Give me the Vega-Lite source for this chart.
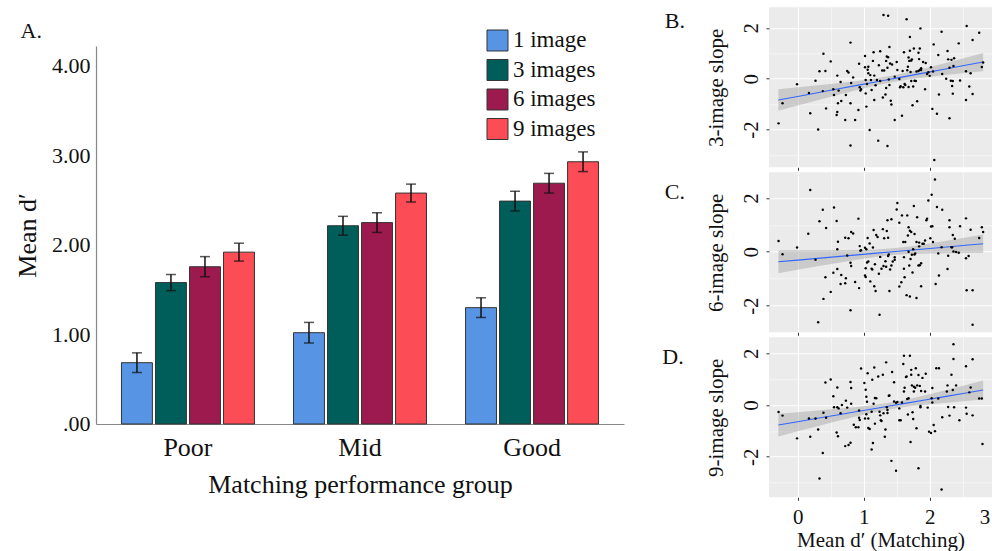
{
"$schema": "https://vega.github.io/schema/vega-lite/v6.json",
"padding": {"left": 14, "top": 7.3, "right": 0, "bottom": 0},
"background": "white",
"spacing": 38,
"config": {
 "font": "Liberation Serif",
 "view": {"stroke": null},
 "axis": {"labelColor": "#111111", "titleColor": "#111111", "titleFontWeight": "normal", "labelFont": "Liberation Serif", "titleFont": "Liberation Serif"},
 "title": {"font": "Liberation Serif", "fontWeight": "normal", "color": "#111111"},
 "legend": {"labelFont": "Liberation Serif", "titleFont": "Liberation Serif"}
},
"datasets": {
 "bars": [
  {"group":"Poor","images":"1 image","mean":0.685,"lo":0.575,"hi":0.795},
  {"group":"Poor","images":"3 images","mean":1.58,"lo":1.49,"hi":1.67},
  {"group":"Poor","images":"6 images","mean":1.757,"lo":1.645,"hi":1.87},
  {"group":"Poor","images":"9 images","mean":1.92,"lo":1.82,"hi":2.02},
  {"group":"Mid","images":"1 image","mean":1.02,"lo":0.905,"hi":1.135},
  {"group":"Mid","images":"3 images","mean":2.215,"lo":2.11,"hi":2.32},
  {"group":"Mid","images":"6 images","mean":2.25,"lo":2.14,"hi":2.36},
  {"group":"Mid","images":"9 images","mean":2.58,"lo":2.48,"hi":2.68},
  {"group":"Good","images":"1 image","mean":1.3,"lo":1.19,"hi":1.41},
  {"group":"Good","images":"3 images","mean":2.49,"lo":2.38,"hi":2.6},
  {"group":"Good","images":"6 images","mean":2.69,"lo":2.58,"hi":2.8},
  {"group":"Good","images":"9 images","mean":2.93,"lo":2.82,"hi":3.04}
 ],
 "bandB": [
  {"x":-0.293,"lo":-1.265,"hi":-0.415,"fit":-0.84},
  {"x":0,"lo":-1.058,"hi":-0.34,"fit":-0.699},
  {"x":0.3,"lo":-0.847,"hi":-0.261,"fit":-0.554},
  {"x":0.6,"lo":-0.642,"hi":-0.178,"fit":-0.41},
  {"x":0.9,"lo":-0.442,"hi":-0.088,"fit":-0.265},
  {"x":1.2,"lo":-0.26,"hi":0.018,"fit":-0.121},
  {"x":1.4,"lo":-0.154,"hi":0.106,"fit":-0.024},
  {"x":1.6,"lo":-0.066,"hi":0.21,"fit":0.072},
  {"x":1.9,"lo":0.041,"hi":0.393,"fit":0.217},
  {"x":2.2,"lo":0.131,"hi":0.591,"fit":0.361},
  {"x":2.5,"lo":0.214,"hi":0.798,"fit":0.506},
  {"x":2.81,"lo":0.295,"hi":1.015,"fit":0.655}
 ],
 "bandC": [
  {"x":-0.293,"lo":-0.8,"hi":0.056,"fit":-0.372},
  {"x":0,"lo":-0.671,"hi":0.053,"fit":-0.309},
  {"x":0.3,"lo":-0.54,"hi":0.052,"fit":-0.244},
  {"x":0.6,"lo":-0.414,"hi":0.054,"fit":-0.18},
  {"x":0.9,"lo":-0.293,"hi":0.063,"fit":-0.115},
  {"x":1.2,"lo":-0.187,"hi":0.087,"fit":-0.05},
  {"x":1.44,"lo":-0.124,"hi":0.126,"fit":0.001},
  {"x":1.7,"lo":-0.081,"hi":0.197,"fit":0.058},
  {"x":2.0,"lo":-0.06,"hi":0.304,"fit":0.122},
  {"x":2.3,"lo":-0.052,"hi":0.426,"fit":0.187},
  {"x":2.55,"lo":-0.049,"hi":0.531,"fit":0.241},
  {"x":2.81,"lo":-0.05,"hi":0.644,"fit":0.297}
 ],
 "bandD": [
  {"x":-0.293,"lo":-1.214,"hi":-0.334,"fit":-0.774},
  {"x":0,"lo":-1.017,"hi":-0.275,"fit":-0.646},
  {"x":0.3,"lo":-0.818,"hi":-0.212,"fit":-0.515},
  {"x":0.6,"lo":-0.622,"hi":-0.146,"fit":-0.384},
  {"x":0.9,"lo":-0.434,"hi":-0.072,"fit":-0.253},
  {"x":1.2,"lo":-0.262,"hi":0.018,"fit":-0.122},
  {"x":1.41,"lo":-0.161,"hi":0.099,"fit":-0.031},
  {"x":1.65,"lo":-0.069,"hi":0.217,"fit":0.074},
  {"x":1.95,"lo":0.018,"hi":0.392,"fit":0.205},
  {"x":2.25,"lo":0.091,"hi":0.581,"fit":0.336},
  {"x":2.55,"lo":0.156,"hi":0.778,"fit":0.467},
  {"x":2.81,"lo":0.21,"hi":0.95,"fit":0.58}
 ],
 "ptsB": [{"x":-0.29,"y":-1.76},{"x":-0.23,"y":-0.97},{"x":-0.01,"y":-0.22},{"x":0.17,"y":-0.56},{"x":0.19,"y":-1.36},{"x":0.27,"y":-0.08},{"x":0.31,"y":-2.0},{"x":0.33,"y":0.29},{"x":0.38,"y":-0.49},{"x":0.39,"y":0.98},{"x":0.42,"y":0.3},{"x":0.43,"y":-1.17},{"x":0.5,"y":0.68},{"x":0.54,"y":-0.42},{"x":0.55,"y":-0.64},{"x":0.59,"y":-1.43},{"x":0.6,"y":-1.31},{"x":0.6,"y":0.12},{"x":0.61,"y":-0.97},{"x":0.62,"y":-0.47},{"x":0.65,"y":-0.13},{"x":0.66,"y":-0.88},{"x":0.72,"y":-1.63},{"x":0.73,"y":-0.64},{"x":0.75,"y":0.3},{"x":0.77,"y":0.24},{"x":0.8,"y":1.42},{"x":0.8,"y":-2.63},{"x":0.8,"y":-0.97},{"x":0.81,"y":-0.17},{"x":0.84,"y":0.05},{"x":0.87,"y":-1.63},{"x":0.92,"y":-1.23},{"x":0.93,"y":0.59},{"x":0.94,"y":-0.34},{"x":0.95,"y":-0.47},{"x":0.96,"y":-0.42},{"x":1.02,"y":0.89},{"x":1.02,"y":0.45},{"x":1.03,"y":-0.05},{"x":1.03,"y":-0.58},{"x":1.04,"y":-1.1},{"x":1.05,"y":-0.21},{"x":1.06,"y":0.35},{"x":1.07,"y":0.47},{"x":1.07,"y":0.21},{"x":1.09,"y":-2.02},{"x":1.1,"y":0.14},{"x":1.11,"y":-0.05},{"x":1.12,"y":-0.45},{"x":1.14,"y":0.7},{"x":1.15,"y":1.04},{"x":1.16,"y":0.12},{"x":1.16,"y":-0.84},{"x":1.18,"y":-0.26},{"x":1.2,"y":-0.05},{"x":1.22,"y":-2.44},{"x":1.23,"y":0.53},{"x":1.25,"y":1.08},{"x":1.25,"y":-0.09},{"x":1.28,"y":0.32},{"x":1.29,"y":-0.74},{"x":1.3,"y":2.51},{"x":1.31,"y":0.32},{"x":1.33,"y":-0.62},{"x":1.34,"y":-0.37},{"x":1.34,"y":0.7},{"x":1.35,"y":0.87},{"x":1.36,"y":0.43},{"x":1.36,"y":-2.65},{"x":1.37,"y":2.48},{"x":1.37,"y":0.84},{"x":1.38,"y":-0.03},{"x":1.39,"y":1.25},{"x":1.39,"y":-0.25},{"x":1.4,"y":0.6},{"x":1.41,"y":-0.87},{"x":1.42,"y":-1.02},{"x":1.43,"y":0.56},{"x":1.47,"y":-1.63},{"x":1.47,"y":0.08},{"x":1.5,"y":0.66},{"x":1.51,"y":0.34},{"x":1.54,"y":-0.01},{"x":1.55,"y":-0.34},{"x":1.56,"y":-0.3},{"x":1.58,"y":-1.46},{"x":1.59,"y":0.3},{"x":1.6,"y":-0.34},{"x":1.61,"y":1.04},{"x":1.62,"y":-0.21},{"x":1.63,"y":-0.25},{"x":1.65,"y":2.34},{"x":1.66,"y":0.33},{"x":1.67,"y":0.47},{"x":1.68,"y":0.83},{"x":1.68,"y":-0.33},{"x":1.69,"y":0.7},{"x":1.7,"y":1.64},{"x":1.7,"y":1.1},{"x":1.71,"y":0.26},{"x":1.72,"y":0.71},{"x":1.72,"y":-0.09},{"x":1.73,"y":0.76},{"x":1.74,"y":-1.05},{"x":1.75,"y":-0.31},{"x":1.76,"y":1.19},{"x":1.77,"y":-0.08},{"x":1.79,"y":-0.09},{"x":1.8,"y":0.28},{"x":1.81,"y":-0.89},{"x":1.83,"y":1.02},{"x":1.83,"y":0.3},{"x":1.84,"y":0.77},{"x":1.85,"y":0.34},{"x":1.85,"y":1.19},{"x":1.86,"y":1.98},{"x":1.87,"y":0.41},{"x":1.87,"y":0.34},{"x":1.9,"y":0.66},{"x":1.93,"y":-0.42},{"x":1.94,"y":0.62},{"x":1.96,"y":0.18},{"x":1.98,"y":0.25},{"x":2.0,"y":0.11},{"x":2.02,"y":0.45},{"x":2.04,"y":-1.19},{"x":2.05,"y":0.28},{"x":2.06,"y":1.35},{"x":2.07,"y":-3.2},{"x":2.11,"y":-1.38},{"x":2.13,"y":0.93},{"x":2.14,"y":-0.62},{"x":2.18,"y":1.85},{"x":2.19,"y":0.18},{"x":2.25,"y":0.0},{"x":2.27,"y":1.09},{"x":2.28,"y":0.76},{"x":2.3,"y":0.43},{"x":2.3,"y":-1.56},{"x":2.32,"y":-0.08},{"x":2.33,"y":0.74},{"x":2.34,"y":-0.29},{"x":2.35,"y":-0.59},{"x":2.36,"y":0.5},{"x":2.37,"y":0.8},{"x":2.35,"y":-0.09},{"x":2.44,"y":1.39},{"x":2.46,"y":-0.07},{"x":2.55,"y":0.29},{"x":2.55,"y":-0.84},{"x":2.56,"y":2.07},{"x":2.6,"y":-0.31},{"x":2.62,"y":0.21},{"x":2.65,"y":1.52},{"x":2.65,"y":-0.6},{"x":2.75,"y":1.81},{"x":2.79,"y":0.46},{"x":2.81,"y":0.64}],
 "ptsC": [{"x":-0.29,"y":0.4},{"x":-0.23,"y":-0.09},{"x":-0.01,"y":0.16},{"x":0.16,"y":0.67},{"x":0.19,"y":2.29},{"x":0.27,"y":-0.3},{"x":0.31,"y":-2.62},{"x":0.33,"y":1.13},{"x":0.38,"y":1.56},{"x":0.39,"y":-1.75},{"x":0.42,"y":-0.95},{"x":0.43,"y":0.88},{"x":0.5,"y":-1.49},{"x":0.54,"y":-0.78},{"x":0.55,"y":1.64},{"x":0.59,"y":1.14},{"x":0.6,"y":0.09},{"x":0.6,"y":-0.64},{"x":0.61,"y":0.37},{"x":0.65,"y":-1.2},{"x":0.66,"y":-0.86},{"x":0.72,"y":0.52},{"x":0.72,"y":-1.17},{"x":0.73,"y":-0.98},{"x":0.75,"y":-0.14},{"x":0.77,"y":0.5},{"x":0.8,"y":-2.17},{"x":0.8,"y":-0.41},{"x":0.81,"y":-0.53},{"x":0.81,"y":0.73},{"x":0.84,"y":0.68},{"x":0.87,"y":-1.12},{"x":0.92,"y":1.23},{"x":0.93,"y":-1.35},{"x":0.94,"y":0.21},{"x":0.95,"y":0.04},{"x":0.96,"y":0.06},{"x":1.02,"y":-0.88},{"x":1.02,"y":0.15},{"x":1.03,"y":-0.61},{"x":1.03,"y":-0.94},{"x":1.04,"y":0.09},{"x":1.05,"y":-0.4},{"x":1.06,"y":0.51},{"x":1.07,"y":-0.36},{"x":1.09,"y":0.31},{"x":1.1,"y":-1.1},{"x":1.12,"y":-0.63},{"x":1.13,"y":-0.66},{"x":1.14,"y":0.16},{"x":1.15,"y":0.81},{"x":1.16,"y":-1.28},{"x":1.17,"y":-0.46},{"x":1.18,"y":-1.46},{"x":1.19,"y":0.62},{"x":1.21,"y":0.55},{"x":1.23,"y":-0.82},{"x":1.24,"y":-2.34},{"x":1.25,"y":-0.19},{"x":1.27,"y":-0.63},{"x":1.29,"y":0.84},{"x":1.3,"y":-0.53},{"x":1.31,"y":0.5},{"x":1.33,"y":-0.35},{"x":1.34,"y":-0.56},{"x":1.35,"y":0.77},{"x":1.36,"y":1.17},{"x":1.37,"y":0.52},{"x":1.37,"y":-0.16},{"x":1.38,"y":-0.1},{"x":1.39,"y":-1.46},{"x":1.4,"y":-0.66},{"x":1.42,"y":1.21},{"x":1.42,"y":-0.51},{"x":1.44,"y":-0.36},{"x":1.47,"y":-0.2},{"x":1.47,"y":-0.3},{"x":1.5,"y":1.57},{"x":1.51,"y":1.81},{"x":1.54,"y":-1.29},{"x":1.54,"y":1.08},{"x":1.57,"y":-1.13},{"x":1.58,"y":1.35},{"x":1.6,"y":0.36},{"x":1.61,"y":-0.63},{"x":1.61,"y":-0.2},{"x":1.62,"y":-0.95},{"x":1.63,"y":0.36},{"x":1.65,"y":-1.61},{"x":1.66,"y":1.35},{"x":1.67,"y":0.6},{"x":1.68,"y":0.91},{"x":1.68,"y":0.0},{"x":1.69,"y":-0.51},{"x":1.7,"y":-1.66},{"x":1.7,"y":0.78},{"x":1.71,"y":-0.27},{"x":1.72,"y":0.73},{"x":1.73,"y":-0.11},{"x":1.74,"y":-0.77},{"x":1.75,"y":0.09},{"x":1.76,"y":1.7},{"x":1.77,"y":-0.1},{"x":1.77,"y":0.66},{"x":1.78,"y":-0.06},{"x":1.8,"y":-1.72},{"x":1.8,"y":0.36},{"x":1.81,"y":1.28},{"x":1.83,"y":-0.51},{"x":1.84,"y":0.2},{"x":1.84,"y":0.34},{"x":1.85,"y":-0.5},{"x":1.87,"y":-0.43},{"x":1.87,"y":-1.28},{"x":1.89,"y":0.3},{"x":1.91,"y":0.3},{"x":1.93,"y":0.42},{"x":1.95,"y":1.17},{"x":1.96,"y":1.23},{"x":1.98,"y":1.9},{"x":2.01,"y":0.5},{"x":2.02,"y":0.94},{"x":2.03,"y":2.12},{"x":2.04,"y":0.95},{"x":2.05,"y":0.36},{"x":2.08,"y":2.68},{"x":2.09,"y":-1.2},{"x":2.11,"y":1.66},{"x":2.13,"y":-0.06},{"x":2.14,"y":-0.88},{"x":2.18,"y":0.17},{"x":2.19,"y":1.56},{"x":2.27,"y":-0.64},{"x":2.28,"y":-0.15},{"x":2.3,"y":1.17},{"x":2.3,"y":0.91},{"x":2.33,"y":0.17},{"x":2.34,"y":0.17},{"x":2.35,"y":0.62},{"x":2.36,"y":0.01},{"x":2.38,"y":0.48},{"x":2.4,"y":-0.01},{"x":2.44,"y":-0.04},{"x":2.46,"y":0.95},{"x":2.55,"y":1.24},{"x":2.55,"y":-0.24},{"x":2.56,"y":-1.43},{"x":2.59,"y":-0.16},{"x":2.62,"y":0.82},{"x":2.65,"y":-1.43},{"x":2.65,"y":-2.71},{"x":2.75,"y":0.51},{"x":2.79,"y":0.91},{"x":2.81,"y":0.73}],
 "ptsD": [{"x":-0.29,"y":-0.27},{"x":-0.23,"y":-0.41},{"x":-0.01,"y":-1.29},{"x":0.17,"y":-0.52},{"x":0.19,"y":-1.23},{"x":0.27,"y":-0.52},{"x":0.31,"y":-0.95},{"x":0.33,"y":-2.84},{"x":0.38,"y":-1.86},{"x":0.39,"y":-0.3},{"x":0.42,"y":0.87},{"x":0.43,"y":-0.49},{"x":0.5,"y":0.99},{"x":0.54,"y":0.34},{"x":0.55,"y":-0.09},{"x":0.59,"y":-1.06},{"x":0.6,"y":0.68},{"x":0.6,"y":-0.09},{"x":0.61,"y":-1.21},{"x":0.62,"y":-0.13},{"x":0.65,"y":-0.32},{"x":0.67,"y":0.0},{"x":0.72,"y":-1.59},{"x":0.73,"y":0.17},{"x":0.75,"y":-0.1},{"x":0.77,"y":-1.55},{"x":0.8,"y":-1.46},{"x":0.8,"y":0.89},{"x":0.81,"y":0.66},{"x":0.81,"y":0.05},{"x":0.85,"y":-0.76},{"x":0.88,"y":-0.86},{"x":0.92,"y":-0.86},{"x":0.93,"y":-0.49},{"x":0.93,"y":-0.21},{"x":0.94,"y":-0.58},{"x":0.96,"y":1.41},{"x":1.01,"y":0.85},{"x":1.02,"y":-0.52},{"x":1.03,"y":0.59},{"x":1.04,"y":0.32},{"x":1.04,"y":-0.36},{"x":1.05,"y":0.13},{"x":1.06,"y":1.23},{"x":1.07,"y":-0.52},{"x":1.07,"y":-0.89},{"x":1.09,"y":-0.93},{"x":1.12,"y":-0.26},{"x":1.12,"y":-1.72},{"x":1.13,"y":0.98},{"x":1.14,"y":-1.47},{"x":1.15,"y":0.05},{"x":1.16,"y":1.45},{"x":1.17,"y":0.27},{"x":1.17,"y":-0.72},{"x":1.19,"y":0.26},{"x":1.22,"y":1.1},{"x":1.24,"y":-0.26},{"x":1.25,"y":-0.4},{"x":1.26,"y":-0.59},{"x":1.27,"y":-0.62},{"x":1.29,"y":1.17},{"x":1.3,"y":-0.32},{"x":1.32,"y":-1.23},{"x":1.33,"y":-0.95},{"x":1.34,"y":1.65},{"x":1.35,"y":-0.09},{"x":1.36,"y":-0.19},{"x":1.36,"y":-0.31},{"x":1.38,"y":0.36},{"x":1.39,"y":0.37},{"x":1.42,"y":-2.16},{"x":1.43,"y":1.28},{"x":1.46,"y":0.88},{"x":1.46,"y":0.14},{"x":1.49,"y":0.09},{"x":1.49,"y":-2.54},{"x":1.51,"y":0.12},{"x":1.54,"y":-0.13},{"x":1.54,"y":-0.59},{"x":1.56,"y":-0.59},{"x":1.58,"y":0.1},{"x":1.6,"y":1.59},{"x":1.61,"y":1.91},{"x":1.61,"y":0.52},{"x":1.62,"y":0.67},{"x":1.64,"y":1.08},{"x":1.65,"y":1.1},{"x":1.66,"y":0.23},{"x":1.67,"y":-0.37},{"x":1.68,"y":0.26},{"x":1.7,"y":1.91},{"x":1.71,"y":-1.43},{"x":1.72,"y":1.17},{"x":1.72,"y":1.36},{"x":1.73,"y":0.76},{"x":1.74,"y":-0.28},{"x":1.75,"y":-0.54},{"x":1.76,"y":0.52},{"x":1.76,"y":0.71},{"x":1.78,"y":0.67},{"x":1.79,"y":1.42},{"x":1.8,"y":-0.9},{"x":1.81,"y":0.76},{"x":1.83,"y":-2.45},{"x":1.83,"y":1.16},{"x":1.85,"y":0.74},{"x":1.86,"y":-0.09},{"x":1.86,"y":-0.04},{"x":1.87,"y":0.54},{"x":1.89,"y":1.05},{"x":1.93,"y":0.52},{"x":1.94,"y":1.21},{"x":1.97,"y":-0.1},{"x":1.99,"y":-1.03},{"x":2.02,"y":-1.08},{"x":2.03,"y":0.26},{"x":2.04,"y":0.66},{"x":2.04,"y":0.1},{"x":2.06,"y":-0.77},{"x":2.08,"y":-1.01},{"x":2.1,"y":1.42},{"x":2.13,"y":0.25},{"x":2.14,"y":1.42},{"x":2.18,"y":-3.27},{"x":2.19,"y":-0.47},{"x":2.26,"y":0.52},{"x":2.27,"y":0.76},{"x":2.28,"y":-0.08},{"x":2.3,"y":-0.41},{"x":2.33,"y":1.17},{"x":2.35,"y":0.58},{"x":2.36,"y":1.78},{"x":2.36,"y":2.35},{"x":2.37,"y":-0.09},{"x":2.4,"y":0.76},{"x":2.45,"y":-0.59},{"x":2.55,"y":1.5},{"x":2.55,"y":-0.1},{"x":2.56,"y":-0.34},{"x":2.6,"y":0.49},{"x":2.62,"y":0.68},{"x":2.65,"y":-0.4},{"x":2.65,"y":1.77},{"x":2.75,"y":0.25},{"x":2.79,"y":0.25},{"x":2.8,"y":-1.51}]
},
"hconcat": [
 {
  "width": 528, "height": 416.7,
  "data": {"name": "bars"},
  "title": {"text": "A.", "anchor": "start", "frame": "bounds", "orient": "top", "offset": -52.7, "dx": 6, "fontSize": 22, "baseline": "alphabetic", "font": "Liberation Serif"},
  "encoding": {
   "x": {"field": "group", "type": "nominal", "sort": ["Poor", "Mid", "Good"], "scale": {"paddingInner": 0.227, "paddingOuter": 0.148},
    "axis": {"title": "Matching performance group", "ticks": false, "labelAngle": 0, "labelFont": "Liberation Serif", "titleFont": "Liberation Serif", "labelFontSize": 26, "labelPadding": 10.5, "titleFontSize": 26, "titlePadding": 11, "domainColor": "#888888", "domainWidth": 1.2}},
   "xOffset": {"field": "images", "type": "nominal", "sort": ["1 image", "3 images", "6 images", "9 images"], "scale": {"paddingInner": 0.09, "paddingOuter": 0}}
  },
  "layer": [
   {"mark": {"type": "bar", "stroke": "#333333", "strokeWidth": 1},
    "encoding": {
     "y": {"field": "mean", "type": "quantitative", "scale": {"domain": [0, 4.223], "range": [416.7, 38.7], "nice": false},
      "axis": {"title": "Mean d′", "values": [0, 1, 2, 3, 4], "labelExpr": "datum.value === 0 ? '.00' : format(datum.value, '.2f')", "ticks": false, "grid": false, "domainColor": "#888888", "domainWidth": 1.2, "labelFont": "Liberation Serif", "titleFont": "Liberation Serif", "labelFontSize": 22, "labelPadding": 6, "titleFontSize": 26, "titlePadding": 11}},
     "color": {"field": "images", "type": "nominal", "sort": ["1 image", "3 images", "6 images", "9 images"],
      "scale": {"domain": ["1 image", "3 images", "6 images", "9 images"], "range": ["#5794E4", "#005E5A", "#9D1A4E", "#FC4C56"]},
      "legend": {"orient": "none", "legendX": 390, "legendY": 21.7, "title": null, "padding": 0, "symbolType": "square", "symbolSize": 441, "symbolStrokeColor": "#333333", "symbolStrokeWidth": 1, "symbolOpacity": 1, "labelFont": "Liberation Serif", "labelFontSize": 23, "labelColor": "#111111", "labelOffset": 4, "rowPadding": 4.5}}
    }},
   {"mark": {"type": "rule", "color": "#111111", "strokeWidth": 1.5},
    "encoding": {"y": {"field": "lo", "type": "quantitative", "scale": {"domain": [0, 4.223], "range": [416.7, 38.7], "nice": false},
      "axis": {"title": "Mean d′", "values": [0, 1, 2, 3, 4], "labelExpr": "datum.value === 0 ? '.00' : format(datum.value, '.2f')", "ticks": false, "grid": false, "domainColor": "#888888", "domainWidth": 1.2, "labelFont": "Liberation Serif", "titleFont": "Liberation Serif", "labelFontSize": 22, "labelPadding": 6, "titleFontSize": 26, "titlePadding": 11}}, "y2": {"field": "hi"}}},
   {"mark": {"type": "tick", "color": "#111111", "thickness": 1.5, "size": 10},
    "encoding": {"y": {"field": "lo", "type": "quantitative", "scale": {"domain": [0, 4.223], "range": [416.7, 38.7], "nice": false},
      "axis": {"title": "Mean d′", "values": [0, 1, 2, 3, 4], "labelExpr": "datum.value === 0 ? '.00' : format(datum.value, '.2f')", "ticks": false, "grid": false, "domainColor": "#888888", "domainWidth": 1.2, "labelFont": "Liberation Serif", "titleFont": "Liberation Serif", "labelFontSize": 22, "labelPadding": 6, "titleFontSize": 26, "titlePadding": 11}}}},
   {"mark": {"type": "tick", "color": "#111111", "thickness": 1.5, "size": 10},
    "encoding": {"y": {"field": "hi", "type": "quantitative", "scale": {"domain": [0, 4.223], "range": [416.7, 38.7], "nice": false},
      "axis": {"title": "Mean d′", "values": [0, 1, 2, 3, 4], "labelExpr": "datum.value === 0 ? '.00' : format(datum.value, '.2f')", "ticks": false, "grid": false, "domainColor": "#888888", "domainWidth": 1.2, "labelFont": "Liberation Serif", "titleFont": "Liberation Serif", "labelFontSize": 22, "labelPadding": 6, "titleFontSize": 26, "titlePadding": 11}}}}
  ]
 },
 {
  "spacing": 1,
  "vconcat": [
   {
    "width": 223, "height": 160,
    "view": {"fill": "#EBEBEB", "stroke": null},
    "title": {"text": "B.", "orient": "left", "anchor": "end", "frame": "group", "angle": 0, "align": "right", "baseline": "alphabetic", "offset": 0.1, "dy": 21, "fontSize": 22, "font": "Liberation Serif"},
    "encoding": {"x": {"field": "x", "type": "quantitative", "scale": {"domain": [-0.435, 2.944], "nice": false, "zero": false},
      "axis": {"title": null, "labels": false, "values": [0, 0.5, 1, 1.5, 2, 2.5], "domain": false, "gridColor": "#FFFFFF", "gridWidth": {"condition": {"test": "datum.value % 1 === 0", "value": 1.1}, "value": 0.5}, "tickColor": "#333333", "tickSize": 3, "tickOpacity": {"condition": {"test": "datum.value % 1 === 0", "value": 1}, "value": 0}}}},
    "layer": [
     {"data": {"name": "bandB"}, "mark": {"type": "area", "color": "#999999", "opacity": 0.4},
      "encoding": {"y": {"field": "lo", "type": "quantitative", "scale": {"domain": [-3.49, 2.81], "nice": false, "zero": false},
       "axis": {"title": "3-image slope", "values": [-3, -2, -1, 0, 1, 2], "labelExpr": "datum.value % 2 === 0 ? '' + datum.value : ''", "labelAngle": -90, "labelAlign": "center", "labelBaseline": "bottom", "labelPadding": 4, "labelFont": "Liberation Serif", "titleFont": "Liberation Serif", "labelFontSize": 21, "labelOverlap": false, "labelFlush": false, "titleFontSize": 21, "titlePadding": 14.8, "domain": false, "gridColor": "#FFFFFF", "gridWidth": {"condition": {"test": "datum.value % 2 === 0", "value": 1.1}, "value": 0.5}, "tickColor": "#333333", "tickSize": 3, "tickOpacity": {"condition": {"test": "datum.value % 2 === 0", "value": 1}, "value": 0}}}, "y2": {"field": "hi"}}},
     {"data": {"name": "bandB"}, "mark": {"type": "line", "color": "#3366FF", "strokeWidth": 1.1},
      "encoding": {"y": {"field": "fit", "type": "quantitative", "scale": {"domain": [-3.49, 2.81], "nice": false, "zero": false},
       "axis": {"title": "3-image slope", "values": [-3, -2, -1, 0, 1, 2], "labelExpr": "datum.value % 2 === 0 ? '' + datum.value : ''", "labelAngle": -90, "labelAlign": "center", "labelBaseline": "bottom", "labelPadding": 4, "labelFont": "Liberation Serif", "titleFont": "Liberation Serif", "labelFontSize": 21, "labelOverlap": false, "labelFlush": false, "titleFontSize": 21, "titlePadding": 14.8, "domain": false, "gridColor": "#FFFFFF", "gridWidth": {"condition": {"test": "datum.value % 2 === 0", "value": 1.1}, "value": 0.5}, "tickColor": "#333333", "tickSize": 3, "tickOpacity": {"condition": {"test": "datum.value % 2 === 0", "value": 1}, "value": 0}}}}},
     {"data": {"name": "ptsB"}, "mark": {"type": "circle", "color": "#000000", "size": 6, "opacity": 1},
      "encoding": {"y": {"field": "y", "type": "quantitative", "scale": {"domain": [-3.49, 2.81], "nice": false, "zero": false},
       "axis": {"title": "3-image slope", "values": [-3, -2, -1, 0, 1, 2], "labelExpr": "datum.value % 2 === 0 ? '' + datum.value : ''", "labelAngle": -90, "labelAlign": "center", "labelBaseline": "bottom", "labelPadding": 4, "labelFont": "Liberation Serif", "titleFont": "Liberation Serif", "labelFontSize": 21, "labelOverlap": false, "labelFlush": false, "titleFontSize": 21, "titlePadding": 14.8, "domain": false, "gridColor": "#FFFFFF", "gridWidth": {"condition": {"test": "datum.value % 2 === 0", "value": 1.1}, "value": 0.5}, "tickColor": "#333333", "tickSize": 3, "tickOpacity": {"condition": {"test": "datum.value % 2 === 0", "value": 1}, "value": 0}}}}}
    ]
   },
   {
    "width": 223, "height": 160,
    "view": {"fill": "#EBEBEB", "stroke": null},
    "title": {"text": "C.", "orient": "left", "anchor": "end", "frame": "group", "angle": 0, "align": "right", "baseline": "alphabetic", "offset": 0.1, "dy": 26.5, "fontSize": 22, "font": "Liberation Serif"},
    "encoding": {"x": {"field": "x", "type": "quantitative", "scale": {"domain": [-0.435, 2.944], "nice": false, "zero": false},
      "axis": {"title": null, "labels": false, "values": [0, 0.5, 1, 1.5, 2, 2.5], "domain": false, "gridColor": "#FFFFFF", "gridWidth": {"condition": {"test": "datum.value % 1 === 0", "value": 1.1}, "value": 0.5}, "tickColor": "#333333", "tickSize": 3, "tickOpacity": {"condition": {"test": "datum.value % 1 === 0", "value": 1}, "value": 0}}}},
    "layer": [
     {"data": {"name": "bandC"}, "mark": {"type": "area", "color": "#999999", "opacity": 0.4},
      "encoding": {"y": {"field": "lo", "type": "quantitative", "scale": {"domain": [-2.99, 2.95], "nice": false, "zero": false},
       "axis": {"title": "6-image slope", "values": [-2, -1, 0, 1, 2], "labelExpr": "datum.value % 2 === 0 ? '' + datum.value : ''", "labelAngle": -90, "labelAlign": "center", "labelBaseline": "bottom", "labelPadding": 4, "labelFont": "Liberation Serif", "titleFont": "Liberation Serif", "labelFontSize": 21, "labelOverlap": false, "labelFlush": false, "titleFontSize": 21, "titlePadding": 14.8, "domain": false, "gridColor": "#FFFFFF", "gridWidth": {"condition": {"test": "datum.value % 2 === 0", "value": 1.1}, "value": 0.5}, "tickColor": "#333333", "tickSize": 3, "tickOpacity": {"condition": {"test": "datum.value % 2 === 0", "value": 1}, "value": 0}}}, "y2": {"field": "hi"}}},
     {"data": {"name": "bandC"}, "mark": {"type": "line", "color": "#3366FF", "strokeWidth": 1.1},
      "encoding": {"y": {"field": "fit", "type": "quantitative", "scale": {"domain": [-2.99, 2.95], "nice": false, "zero": false},
       "axis": {"title": "6-image slope", "values": [-2, -1, 0, 1, 2], "labelExpr": "datum.value % 2 === 0 ? '' + datum.value : ''", "labelAngle": -90, "labelAlign": "center", "labelBaseline": "bottom", "labelPadding": 4, "labelFont": "Liberation Serif", "titleFont": "Liberation Serif", "labelFontSize": 21, "labelOverlap": false, "labelFlush": false, "titleFontSize": 21, "titlePadding": 14.8, "domain": false, "gridColor": "#FFFFFF", "gridWidth": {"condition": {"test": "datum.value % 2 === 0", "value": 1.1}, "value": 0.5}, "tickColor": "#333333", "tickSize": 3, "tickOpacity": {"condition": {"test": "datum.value % 2 === 0", "value": 1}, "value": 0}}}}},
     {"data": {"name": "ptsC"}, "mark": {"type": "circle", "color": "#000000", "size": 6, "opacity": 1},
      "encoding": {"y": {"field": "y", "type": "quantitative", "scale": {"domain": [-2.99, 2.95], "nice": false, "zero": false},
       "axis": {"title": "6-image slope", "values": [-2, -1, 0, 1, 2], "labelExpr": "datum.value % 2 === 0 ? '' + datum.value : ''", "labelAngle": -90, "labelAlign": "center", "labelBaseline": "bottom", "labelPadding": 4, "labelFont": "Liberation Serif", "titleFont": "Liberation Serif", "labelFontSize": 21, "labelOverlap": false, "labelFlush": false, "titleFontSize": 21, "titlePadding": 14.8, "domain": false, "gridColor": "#FFFFFF", "gridWidth": {"condition": {"test": "datum.value % 2 === 0", "value": 1.1}, "value": 0.5}, "tickColor": "#333333", "tickSize": 3, "tickOpacity": {"condition": {"test": "datum.value % 2 === 0", "value": 1}, "value": 0}}}}}
    ]
   },
   {
    "width": 223, "height": 160,
    "view": {"fill": "#EBEBEB", "stroke": null},
    "title": {"text": "D.", "orient": "left", "anchor": "end", "frame": "group", "angle": 0, "align": "right", "baseline": "alphabetic", "offset": 0.1, "dy": 26.5, "fontSize": 22, "font": "Liberation Serif"},
    "encoding": {"x": {"field": "x", "type": "quantitative", "scale": {"domain": [-0.435, 2.944], "nice": false, "zero": false},
      "axis": {"title": "Mean d′ (Matching)", "values": [0, 0.5, 1, 1.5, 2, 2.5, 2.83], "labelExpr": "datum.value > 2.8 ? '3' : (datum.value % 1 === 0 ? '' + datum.value : '')", "labelFont": "Liberation Serif", "titleFont": "Liberation Serif", "labelFontSize": 21, "labelPadding": 6, "labelFlush": false, "labelOverlap": false, "titleFontSize": 21, "titlePadding": 2.5, "domain": false, "gridColor": "#FFFFFF", "gridWidth": {"condition": {"test": "datum.value % 1 === 0", "value": 1.1}, "value": 0.5}, "gridOpacity": {"condition": {"test": "datum.value > 2.8", "value": 0}, "value": 1}, "tickColor": "#333333", "tickSize": 3, "tickOpacity": {"condition": {"test": "datum.value % 1 === 0", "value": 1}, "value": 0}}}},
    "layer": [
     {"data": {"name": "bandD"}, "mark": {"type": "area", "color": "#999999", "opacity": 0.4},
      "encoding": {"y": {"field": "lo", "type": "quantitative", "scale": {"domain": [-3.57, 2.62], "nice": false, "zero": false},
       "axis": {"title": "9-image slope", "values": [-3, -2, -1, 0, 1, 2], "labelExpr": "datum.value % 2 === 0 ? '' + datum.value : ''", "labelAngle": -90, "labelAlign": "center", "labelBaseline": "bottom", "labelPadding": 4, "labelFont": "Liberation Serif", "titleFont": "Liberation Serif", "labelFontSize": 21, "labelOverlap": false, "labelFlush": false, "titleFontSize": 21, "titlePadding": 14.8, "domain": false, "gridColor": "#FFFFFF", "gridWidth": {"condition": {"test": "datum.value % 2 === 0", "value": 1.1}, "value": 0.5}, "tickColor": "#333333", "tickSize": 3, "tickOpacity": {"condition": {"test": "datum.value % 2 === 0", "value": 1}, "value": 0}}}, "y2": {"field": "hi"}}},
     {"data": {"name": "bandD"}, "mark": {"type": "line", "color": "#3366FF", "strokeWidth": 1.1},
      "encoding": {"y": {"field": "fit", "type": "quantitative", "scale": {"domain": [-3.57, 2.62], "nice": false, "zero": false},
       "axis": {"title": "9-image slope", "values": [-3, -2, -1, 0, 1, 2], "labelExpr": "datum.value % 2 === 0 ? '' + datum.value : ''", "labelAngle": -90, "labelAlign": "center", "labelBaseline": "bottom", "labelPadding": 4, "labelFont": "Liberation Serif", "titleFont": "Liberation Serif", "labelFontSize": 21, "labelOverlap": false, "labelFlush": false, "titleFontSize": 21, "titlePadding": 14.8, "domain": false, "gridColor": "#FFFFFF", "gridWidth": {"condition": {"test": "datum.value % 2 === 0", "value": 1.1}, "value": 0.5}, "tickColor": "#333333", "tickSize": 3, "tickOpacity": {"condition": {"test": "datum.value % 2 === 0", "value": 1}, "value": 0}}}}},
     {"data": {"name": "ptsD"}, "mark": {"type": "circle", "color": "#000000", "size": 6, "opacity": 1},
      "encoding": {"y": {"field": "y", "type": "quantitative", "scale": {"domain": [-3.57, 2.62], "nice": false, "zero": false},
       "axis": {"title": "9-image slope", "values": [-3, -2, -1, 0, 1, 2], "labelExpr": "datum.value % 2 === 0 ? '' + datum.value : ''", "labelAngle": -90, "labelAlign": "center", "labelBaseline": "bottom", "labelPadding": 4, "labelFont": "Liberation Serif", "titleFont": "Liberation Serif", "labelFontSize": 21, "labelOverlap": false, "labelFlush": false, "titleFontSize": 21, "titlePadding": 14.8, "domain": false, "gridColor": "#FFFFFF", "gridWidth": {"condition": {"test": "datum.value % 2 === 0", "value": 1.1}, "value": 0.5}, "tickColor": "#333333", "tickSize": 3, "tickOpacity": {"condition": {"test": "datum.value % 2 === 0", "value": 1}, "value": 0}}}}}
    ]
   }
  ]
 }
]
}
